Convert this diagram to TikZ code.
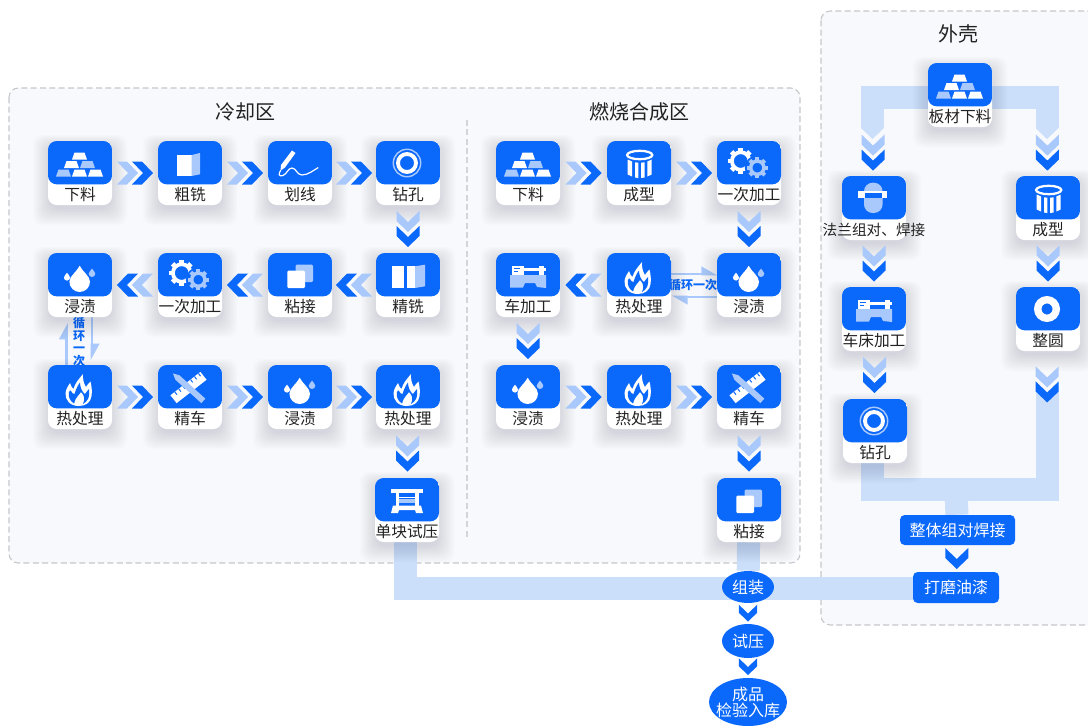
\documentclass[tikz,border=0pt]{standalone}
\usepackage{fontspec}
\setmainfont{Noto Sans CJK SC}
\usetikzlibrary{calc,shapes.geometric,arrows.meta}
\definecolor{cardblue}{HTML}{0A68FA}
\definecolor{iconl}{HTML}{A9C8FB}
\definecolor{pipec}{HTML}{CBDFFB}
\definecolor{panelc}{HTML}{F8F9FC}
\definecolor{dashc}{HTML}{C6C7CA}
\definecolor{txtc}{HTML}{222222}
\definecolor{shadc}{HTML}{3A4A6A}
\pgfdeclarelayer{panel}\pgfdeclarelayer{pipes}\pgfdeclarelayer{shad}
\pgfsetlayers{panel,pipes,shad,main}
\newcommand{\goldbar}[3]{\fill[#3] ({#1-5},{#2-3.5})--({#1+5},{#2-3.5})--({#1+7.5},{#2+3.5})--({#1-7.5},{#2+3.5})--cycle;}
\newcommand{\dropath}{(0,-1.55) .. controls (.25,-1) and (1,-.55) .. (1,0) .. controls (1,.55) and (.55,1) .. (0,1) .. controls (-.55,1) and (-1,.55) .. (-1,0) .. controls (-1,-.55) and (-.25,-1) .. cycle}
\newcommand{\chevshape}[2]{\fill[#2] ({#1},-11.5)--({#1+10},-11.5)--({#1+21},0)--({#1+10},11.5)--({#1},11.5)--({#1+11},0)--cycle;}
\tikzset{
 x=.75pt,y=-.75pt,
 cardbox/.style={rectangle,minimum width=48pt,minimum height=48pt,inner sep=0pt,fill=white,rounded corners=6.5pt,
   path picture={\fill[cardblue] (path picture bounding box.north west) rectangle ([yshift=-8.5pt]path picture bounding box.east);}},
 cardtxt/.style={inner sep=0pt,text=txtc,font=\fontsize{11.8pt}{13pt}\selectfont},
 title/.style={inner sep=0pt,text=txtc,font=\fontsize{15pt}{18pt}\selectfont},
 pill/.style={rectangle,fill=cardblue,rounded corners=3.5pt,inner sep=0pt,text=white,font=\fontsize{12pt}{12pt}\selectfont},
 oval/.style={ellipse,fill=cardblue,inner sep=0pt,text=white,align=center,font=\fontsize{12pt}{11.5pt}\selectfont},
 ovaltxt/.style={inner sep=0pt,text=white,align=center,font=\fontsize{12pt}{11.5pt}\selectfont},
 panelbox/.style={draw=dashc,fill=panelc,dashed,dash pattern=on 4.5pt off 2.5pt,line width=.8pt,rounded corners=7pt},
 pipe/.style={draw=pipec,line width=17.25pt,line cap=butt,line join=miter},
 loopl/.style={draw=iconl,line width=1.9pt},
 looptxt/.style={inner sep=0pt,text=cardblue,align=center,font=\fontsize{9pt}{9.4pt}\selectfont\bfseries},
 pics/dchev/.style={code={\chevshape{-18}{iconl}\chevshape{-3}{cardblue}}},
 pics/schev/.style={code={\chevshape{-10.5}{cardblue}}},
 pics/gold/.style={code={\begin{scope}[shift={(-32,-32)}]
   \goldbar{31.5}{15}{white}\goldbar{23.5}{23.5}{white}\goldbar{39.5}{23.5}{iconl}
   \goldbar{15.5}{32}{iconl}\goldbar{31.5}{32}{white}\goldbar{47.5}{32}{white}\end{scope}}},
 pics/boxi/.style={code={\begin{scope}[shift={(-32,-32)}]
   \fill[white] (18.7,14) rectangle (33.7,35);
   \fill[iconl] (33.7,14)--(42,12)--(42,33.3)--(33.7,35)--cycle;\end{scope}}},
 pics/pen/.style={code={\begin{scope}[shift={(-32,-32)}]
   \fill[white] (24,9.5)--(27.5,12)--(17,26.5)--(12.5,29.5)--(13,24)--cycle;
   \draw[white,line width=.9pt,line cap=round] (12.7,29.3) .. controls (10,33) and (11,36) .. (15,34.5) .. controls (19,33) and (20,27) .. (24,27) .. controls (28,27) and (29,34) .. (34,34) .. controls (40,34) and (46,29) .. (50,26.7);
   \end{scope}}},
 pics/ringi/.style={code={\begin{scope}[shift={(-32,-32)}]
   \draw[iconl,line width=1.1pt] (31,22) circle (13.7);
   \draw[white,line width=2.9pt] (31,22) circle (9);\end{scope}}},
 pics/roundi/.style={code={\begin{scope}[shift={(-32,-32)}]
   \draw[white,line width=5.5pt] (31,22) circle (9.3);\end{scope}}},
 pics/booki/.style={code={\begin{scope}[shift={(-32,-32)}]
   \fill[white] (16,13.3) rectangle (28,35);\fill[white] (30.7,13.3) rectangle (39,35);
   \fill[iconl] (39,13.3)--(49,11.7)--(49,33.3)--(39,35)--cycle;\end{scope}}},
 pics/gluei/.style={code={\begin{scope}[shift={(-32,-32)}]
   \fill[iconl,rounded corners=.8pt] (27.7,11.7) rectangle (45,29);
   \fill[white,rounded corners=.8pt] (19.3,17.7) rectangle (37,35);\end{scope}}},
 pics/gears/.style={code={\begin{scope}[shift={(-32,-32)}]
   \draw[white,line width=2.8pt] (23.7,20) circle (8.8);
   \foreach \a in {0,45,...,315}{\fill[white,shift={(23.7,20)},rotate=\a] (8,-2.4) rectangle (13,2.4);}
   \fill[cardblue] (40.3,26.7) circle (12.5);
   \draw[iconl,line width=2.6pt] (40.3,26.7) circle (6.6);
   \foreach \a in {0,45,...,315}{\fill[iconl,shift={(40.3,26.7)},rotate=\a] (7,-2) rectangle (10.5,2);}
   \end{scope}}},
 pics/dropi/.style={code={\begin{scope}[shift={(-32,-32)}]
   \fill[white,shift={(31.7,28.7)},scale=10.3] \dropath;
   \fill[white,shift={(19,24.5)},scale=3.1] \dropath;
   \fill[iconl,shift={(44,20.7)},scale=3.3] \dropath;\end{scope}}},
 pics/flame/.style={code={\begin{scope}[shift={(-32,-32)}]
   \fill[white] (31,41) .. controls (22,41) and (17,35) .. (17.5,28) .. controls (18,24) and (20,21) .. (22,18) .. controls (23,21) and (24,23) .. (25.5,24) .. controls (27,18) and (31,14) .. (35,9) .. controls (34.5,14) and (36,19) .. (38,22) .. controls (39,20) and (41,18) .. (42.5,16.5) .. controls (44,22) and (44,28) .. (43.5,31) .. controls (43,37) and (38,41) .. cycle;
   \fill[cardblue] (26,38.5) .. controls (22,36) and (20,32) .. (21,27) .. controls (22,25) and (22.5,25) .. (23,26) .. controls (24,28) and (25,29) .. (26.5,29) .. controls (28,24) and (30,20) .. (32,17.5) .. controls (32,22) and (34,27) .. (37,29) .. controls (38.5,27) and (40,25) .. (41,24) .. controls (41.5,28) and (41,32) .. (40,34) .. controls (39,36) and (37,38) .. (35,39) .. controls (38,33) and (35,29) .. (33,27) .. controls (31,30) and (27,33) .. cycle;
   \end{scope}}},
 pics/ruler/.style={code={\begin{scope}[shift={(-32,-32)}]
   \begin{scope}[shift={(30.5,22.5)},rotate=38]
    \fill[white] (-19,-5) rectangle (19,5);
    \foreach \i in {-14,-9,...,16}{\fill[cardblue] (\i,-5) rectangle ({\i+1},-1.5);}
   \end{scope}
   \begin{scope}[shift={(30.5,22.5)},rotate=-42]
    \fill[iconl] (-21,0)--(-15,-3)--(20,-3)--(20,3)--(-15,3)--cycle;
   \end{scope}\end{scope}}},
 pics/press/.style={code={\begin{scope}[shift={(-32,-32)}]
   \fill[white] (16,11.3) rectangle (48,15);
   \fill[white] (20.5,15) rectangle (24,28);\fill[white] (40,15) rectangle (43.5,28);
   \fill[white] (24,18.5) rectangle (40,20);
   \fill[iconl] (24,21) rectangle (40,25);
   \fill[white] (18,27.5)--(46,27.5)--(48,35)--(41,35)--(40,32)--(24,32)--(23,35)--(16,35)--cycle;\end{scope}}},
 pics/drum/.style={code={\begin{scope}[shift={(-32,-32)}]
   \draw[white,line width=1.7pt] (32.7,14) ellipse (12.6 and 4.2);
   \fill[white] (20.7,18.5)--(25,20.5)--(25,35.5)--(20.7,33.5)--cycle;
   \fill[white] (28,21.3)--(31.3,21.7)--(31.3,37)--(28,36.5)--cycle;
   \fill[white] (34.2,21.7)--(37.5,21.3)--(37.5,36.5)--(34.2,37)--cycle;
   \fill[white] (40.4,20.5)--(44.7,18.5)--(44.7,33.5)--(40.4,35.5)--cycle;\end{scope}}},
 pics/lathe/.style={code={\begin{scope}[shift={(-32,-32)}]
   \fill[iconl] (14,22)--(50,22)--(50,35)--(41,34)--(39,30)--(29,30)--(27,34.5)--(14,34.5)--cycle;
   \fill[white] (16,12.7) rectangle (28,21.5);
   \fill[white] (28,15) rectangle (50,18);
   \fill[white] (43,13) rectangle (47.5,21.5);
   \fill[cardblue] (18,15) rectangle (24,16);\fill[cardblue] (18,18) rectangle (22,19);\end{scope}}},
 pics/mask/.style={code={\begin{scope}[shift={(-32,-32)}]
   \fill[iconl,rounded corners=6.5pt] (22,6.7) rectangle (40.6,37);
   \fill[white] (15.7,15.2) rectangle (44.7,21.7);
   \fill[cardblue] (23,16.5) rectangle (39.7,21.5);\end{scope}}},
}
\newcommand{\cardn}[6][53.5]{%
 \begin{pgfonlayer}{shad}
  \foreach \s in {-2,0,...,20}{\fill[shadc,fill opacity=.016,rounded corners=7pt] ({#3-\s*.75},{#4-\s*.55+5}) rectangle ({#3+64+\s*.75},{#4+64+\s*.75+5});}
 \end{pgfonlayer}
 \node[cardbox] (#2) at ({#3+32},{#4+32}) {};
 \pic at (#2) {#5};
 \node[cardtxt] (#2-t) at ({#3+32},{#4+#1}) {#6};
}
\begin{document}
\begin{tikzpicture}
\useasboundingbox (0,0) rectangle (1088,725);
\begin{pgfonlayer}{panel}
 \fill[white] (0,0) rectangle (1088,725);
 \draw[panelbox] (9,88) rectangle (800,563);
 \draw[panelbox] (821,11) rectangle (1110,625);
 \draw[dashc,dashed,dash pattern=on 4.5pt off 2.5pt,line width=.8pt,opacity=.7] (467,120) -- (467,537);
\end{pgfonlayer}
\node[title] (tA) at (245,111.5) {冷却区};
\node[title] (tB) at (639,111.5) {燃烧合成区};
\node[title] (tC) at (958,33.5) {外壳};
% left block
\cardn{a1}{48}{141}{gold}{下料}
\cardn{a2}{158}{141}{boxi}{粗铣}
\cardn{a3}{268}{141}{pen}{划线}
\cardn{a4}{376}{141}{ringi}{钻孔}
\cardn{a5}{376}{253}{booki}{精铣}
\cardn{a6}{268}{253}{gluei}{粘接}
\cardn{a7}{158}{253}{gears}{一次加工}
\cardn{a8}{48}{253}{dropi}{浸渍}
\cardn{a9}{48}{365}{flame}{热处理}
\cardn{a10}{158}{365}{ruler}{精车}
\cardn{a11}{268}{365}{dropi}{浸渍}
\cardn{a12}{376}{365}{flame}{热处理}
\cardn{a13}{375}{478}{press}{单块试压}
% middle block
\cardn{b1}{496}{141}{gold}{下料}
\cardn{b2}{607}{141}{drum}{成型}
\cardn{b3}{717}{141}{gears}{一次加工}
\cardn{b4}{717}{253}{dropi}{浸渍}
\cardn{b5}{607}{253}{flame}{热处理}
\cardn{b6}{496}{253}{lathe}{车加工}
\cardn{b7}{496}{365}{dropi}{浸渍}
\cardn{b8}{607}{365}{flame}{热处理}
\cardn{b9}{717}{365}{ruler}{精车}
\cardn{b10}{717}{478}{gluei}{粘接}
% shell block
\cardn{c1}{928}{63}{gold}{板材下料}
\cardn[54]{c2}{842}{176}{mask}{\fontsize{11pt}{13pt}\selectfont 法兰组对、焊接}
\cardn{c3}{842}{287}{lathe}{车床加工}
\cardn{c4}{843}{399}{ringi}{钻孔}
\cardn{c5}{1016}{176}{drum}{成型}
\cardn{c6}{1016}{287}{roundi}{整圆}
% lower nodes
\node[pill,minimum width=86.25pt,minimum height=22.5pt] (d1) at (957.5,530) {整体组对焊接};
\node[pill,minimum width=64.5pt,minimum height=23.25pt] (d2) at (956,587.5) {打磨油漆};
\node[oval,minimum width=39pt,minimum height=24pt] (e1) at (748,587) {};
\node[ovaltxt] (e1t) at (748,587) {组装};
\node[oval,minimum width=39pt,minimum height=25.5pt] (e2) at (748,641) {};
\node[ovaltxt] (e2t) at (748,641) {试压};
\node[oval,minimum width=58.5pt,minimum height=36pt] (e3) at (748,702) {};
\node[ovaltxt] (e3t) at (748,702.5) {成品\\检验入库};
% named points of the pipes
\coordinate (tL) at (872.5,128);
\coordinate (tR) at (1047,128);
\coordinate (tT) at (960,97);
\coordinate (nR) at (1047,386);
\coordinate (bM) at (956,489.5);
\coordinate (bL) at (872.5,440);
\coordinate (mL) at (405,520);
\coordinate (mM) at (930,588.5);
\coordinate (tipL) at (872.5,139);
\coordinate (tipR) at (1047,139);
\coordinate (notch) at (1047,398);
\begin{pgfonlayer}{pipes}
 \draw[pipe] (tL) |- (tT) -| (tR);
 \fill[pipec] (861,128)--(884,128)--(tipL)--cycle;
 \fill[pipec] (1035.5,128)--(1058.5,128)--(tipR)--cycle;
 \draw[pipe] (bL) |- (bM) -| (nR);
 \fill[panelc] (1035,385.5)--(1059,385.5)--(notch)--cycle;
 \draw[pipe] (bM) -- (d1);
 \draw[pipe] (mL) |- (mM);
 \draw[pipe] (b10) -- (e1);
 % loop arrows
 \coordinate (l1s) at (66.5,365); \coordinate (l1e) at (66.5,323);
 \coordinate (l2s) at (92,317); \coordinate (l2e) at (92,360);
 \coordinate (l3s) at (670,274); \coordinate (l3e) at (717,274);
 \coordinate (l4s) at (717,297); \coordinate (l4e) at (672,297);
 \draw[loopl,-{Triangle[harpoon,length=10.5pt,width=11pt]}] (l1s) -- (l1e);
 \draw[loopl,-{Triangle[harpoon,length=10.5pt,width=11pt]}] (l2s) -- (l2e);
 \draw[loopl,-{Triangle[harpoon,length=10pt,width=11pt]}] (l3s) -- (l3e);
 \draw[loopl,-{Triangle[harpoon,length=10pt,width=11pt]}] (l4s) -- (l4e);
 \node[looptxt] (lt1) at (79,342) {循\\环\\一\\次};
 \node[looptxt] (lt2) at (693,285) {循环一次};
\end{pgfonlayer}
% chevrons
\path (a1)--pic[midway]{dchev}(a2);
\path (a2)--pic[midway]{dchev}(a3);
\path (a3)--pic[midway]{dchev}(a4);
\path (a4)--pic[midway,rotate=-90]{dchev}(a5);
\path (a5)--pic[midway,rotate=180]{dchev}(a6);
\path (a6)--pic[midway,rotate=180]{dchev}(a7);
\path (a7)--pic[midway,rotate=180]{dchev}(a8);
\path (a9)--pic[midway]{dchev}(a10);
\path (a10)--pic[midway]{dchev}(a11);
\path (a11)--pic[midway]{dchev}(a12);
\path (a12)--pic[midway,rotate=-90]{dchev}(a13);
\path (b1)--pic[midway]{dchev}(b2);
\path (b2)--pic[midway]{dchev}(b3);
\path (b3)--pic[midway,rotate=-90]{dchev}(b4);
\path (b5)--pic[midway,rotate=180]{dchev}(b6);
\path (b6)--pic[midway,rotate=-90]{dchev}(b7);
\path (b7)--pic[midway]{dchev}(b8);
\path (b8)--pic[midway]{dchev}(b9);
\path (b9)--pic[midway,rotate=-90]{dchev}(b10);
\path (tipL)--pic[pos=.37,rotate=-90]{dchev}(c2.north);
\path (tipR)--pic[pos=.37,rotate=-90]{dchev}(c5.north);
\path (c2)--pic[midway,rotate=-90]{dchev}(c3);
\path (c3)--pic[midway,rotate=-90]{dchev}(c4);
\path (c5)--pic[midway,rotate=-90]{dchev}(c6);
\path (c6)--pic[pos=.71,rotate=-90]{dchev}(notch);
\path (d1)--pic[midway,rotate=-90]{schev}(d2);
\path (e1)--pic[pos=.48,rotate=-90,scale=.8]{schev}(e2);
\path (e2)--pic[pos=.43,rotate=-90,scale=.8]{schev}(e3);
\end{tikzpicture}
\end{document}
